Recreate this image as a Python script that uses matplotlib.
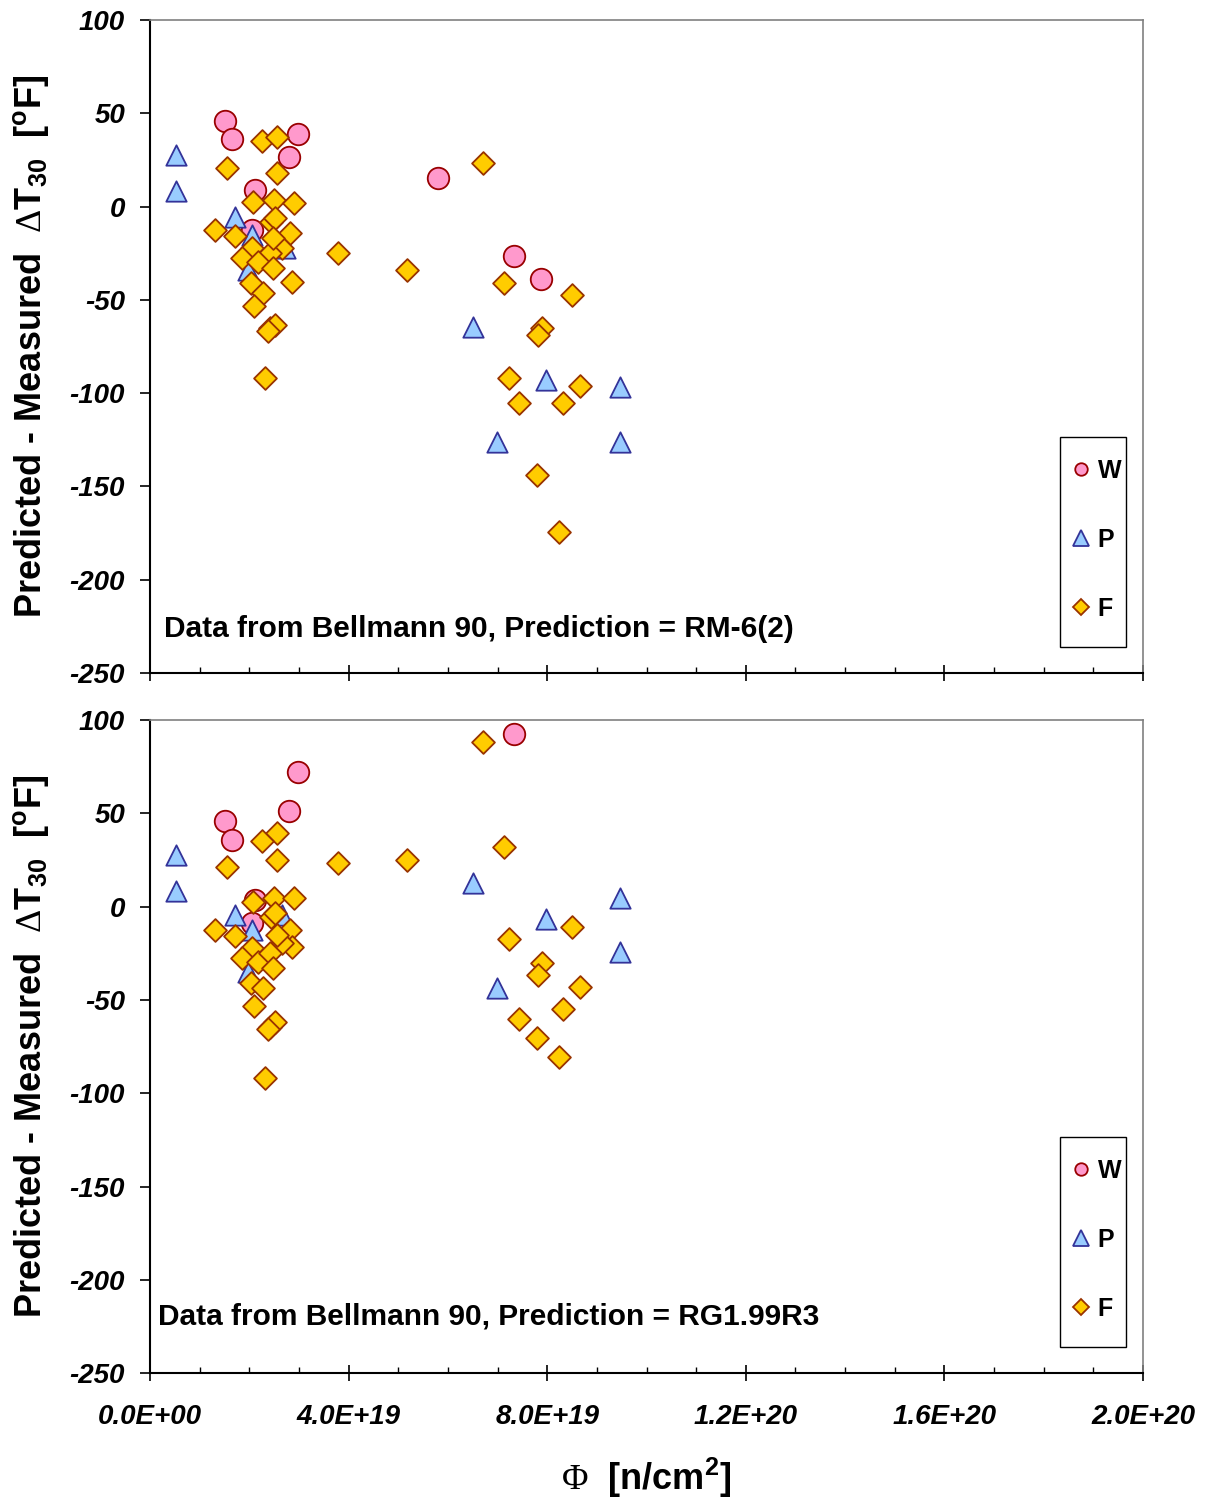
import matplotlib
matplotlib.use("Agg")
import matplotlib.pyplot as plt
from matplotlib.lines import Line2D
from matplotlib.patches import Rectangle
from matplotlib.ticker import FixedLocator, MultipleLocator

matplotlib.rcParams['font.family'] = ['Liberation Sans', 'DejaVu Sans']
matplotlib.rcParams['mathtext.fontset'] = 'custom'
matplotlib.rcParams['mathtext.rm'] = 'Liberation Sans:bold'
matplotlib.rcParams['mathtext.bf'] = 'Liberation Sans:bold'
matplotlib.rcParams['mathtext.sf'] = 'Liberation Serif'

# fluence in units of 1E19 n/cm2, difference in degF
# top panel: Prediction = RM-6(2)
top_w_x = [1.51, 1.65, 2.98, 2.80, 2.11, 5.80, 2.05, 7.33, 7.88]
top_w_y = [45.9, 36.2, 38.9, 26.6, 8.9, 15.3, -12.6, -26.5, -38.9]
top_p_x = [0.52, 0.52, 1.71, 2.05, 1.97, 2.72, 6.51, 6.99, 7.98, 9.47, 9.47]
top_p_y = [27.7, 8.4, -5.4, -15.2, -34.0, -22.0, -64.6, -126.0, -93.0, -96.6, -126.0]
top_f_x = [1.55, 2.26, 2.56, 2.56, 2.08, 2.50, 2.90, 2.44, 2.52, 1.31, 1.71, 2.82,
           2.66, 2.05, 2.42, 1.85, 2.17, 2.48, 2.86, 2.03, 2.28, 2.09, 2.42, 2.52,
           2.38, 2.32, 3.79, 2.48,
           6.71, 5.18, 7.13, 8.50, 7.90, 7.81, 7.23, 8.66, 7.43, 8.32, 7.79, 8.24]
top_f_y = [20.6, 35.1, 37.3, 18.0, 2.5, 3.5, 1.9, -8.3, -6.0, -12.5, -15.8, -14.3,
           -22.3, -22.3, -25.0, -27.7, -29.8, -32.9, -40.3, -41.1, -46.3, -53.3, -65.1, -63.5,
           -66.5, -92.0, -25.0, -17.0,
           23.3, -34.0, -41.0, -47.4, -65.0, -68.8, -91.8, -96.1, -105.3, -105.3, -143.9, -174.4]

# bottom panel: Prediction = RG1.99R3
bot_w_x = [1.51, 1.65, 2.98, 2.80, 2.11, 2.05, 7.33]
bot_w_y = [45.9, 35.7, 72.1, 51.2, 3.6, -8.8, 92.4]
bot_p_x = [0.52, 0.52, 1.71, 2.05, 1.97, 2.66, 6.51, 6.99, 7.98, 9.47, 9.47]
bot_p_y = [27.6, 8.4, -4.5, -12.6, -35.0, -4.5, 12.7, -43.5, -6.8, 4.6, -24.3]
bot_f_x = [2.56, 2.26, 1.55, 2.56, 3.79, 2.08, 2.50, 2.90, 2.44, 1.31, 1.71, 2.82,
           2.86, 2.66, 2.05, 1.85, 2.17, 2.42, 2.48, 2.03, 2.28, 2.09, 2.42, 2.52,
           2.38, 2.32, 2.52, 2.55,
           6.71, 7.13, 5.18, 8.50, 7.23, 7.90, 7.81, 8.66, 8.32, 7.43, 7.79, 8.24]
bot_f_y = [39.4, 35.2, 21.3, 25.0, 23.4, 2.5, 4.6, 4.6, -5.7, -12.6, -15.9, -12.6,
           -21.7, -19.6, -22.3, -27.6, -29.8, -25.0, -32.9, -41.1, -43.7, -53.3, -64.6, -61.9,
           -65.5, -91.9, -3.5, -15.0,
           88.3, 32.0, 25.0, -10.8, -17.4, -30.4, -36.9, -43.3, -54.6, -60.2, -70.4, -80.6]

x_ticks = [0, 4e19, 8e19, 1.2e20, 1.6e20, 2.0e20]
x_tick_labels = ["0.0E+00", "4.0E+19", "8.0E+19", "1.2E+20", "1.6E+20", "2.0E+20"]
y_ticks = [-250, -200, -150, -100, -50, 0, 50, 100]

W_STYLE = dict(marker='o', s=240, facecolor='#FF99CC', edgecolor='#990000')
P_STYLE = dict(marker='^', s=215, facecolor='#99CCFF', edgecolor='#333399')
F_STYLE = dict(marker='D', s=135, facecolor='#FFCC00', edgecolor='#993300')


def draw_panel(ax, wx, wy, px, py, fx, fy, note, note_xy, show_xlabels):
    ax.scatter([v * 1e19 for v in wx], wy, linewidths=1.3, zorder=3, **W_STYLE)
    ax.scatter([v * 1e19 for v in px], py, linewidths=1.3, zorder=4, **P_STYLE)
    ax.scatter([v * 1e19 for v in fx], fy, linewidths=1.3, zorder=5, **F_STYLE)

    ax.set_xlim(0, 2.0e20)
    ax.set_ylim(-250, 100)
    ax.xaxis.set_major_locator(FixedLocator(x_ticks))
    ax.xaxis.set_minor_locator(MultipleLocator(1e19))
    ax.yaxis.set_major_locator(FixedLocator(y_ticks))
    if show_xlabels:
        ax.set_xticklabels(x_tick_labels)
    else:
        ax.set_xticklabels([])
    ax.set_yticklabels([str(v) for v in y_ticks])
    for lab in ax.get_xticklabels() + ax.get_yticklabels():
        lab.set_fontsize(20)
        lab.set_fontweight('bold')
        lab.set_fontstyle('italic')
    ax.tick_params(axis='x', which='major', direction='inout', length=11, width=1.2, pad=17)
    ax.tick_params(axis='x', which='minor', direction='in', length=4.5, width=1.0)
    ax.tick_params(axis='y', which='major', direction='out', length=7, width=1.2, pad=11)

    for side in ['left', 'bottom']:
        ax.spines[side].set_color('black')
        ax.spines[side].set_linewidth(1.5)
    for side in ['top', 'right']:
        ax.spines[side].set_color('#808080')
        ax.spines[side].set_linewidth(1.2)

    ax.set_ylabel(r'Predicted - Measured  $\mathsf{\Delta}$T$_{\mathrm{30}}$  [$^{\mathrm{o}}$F]',
                  fontsize=26, fontweight='bold')
    ax.yaxis.set_label_coords(-0.100, 0.5)

    ax.text(note_xy[0], note_xy[1], note, transform=ax.transAxes, fontsize=21.5,
            fontweight='bold', ha='left', va='baseline')

    # legend box
    ax.add_patch(Rectangle((0.9164, 0.0398), 0.0665, 0.3216, transform=ax.transAxes,
                           facecolor='white', edgecolor='black', linewidth=1.0, zorder=6))
    handles = [
        Line2D([], [], linestyle='none', marker='o', markersize=9, markerfacecolor='#FF99CC',
               markeredgecolor='#990000', markeredgewidth=1.3),
        Line2D([], [], linestyle='none', marker='^', markersize=12, markerfacecolor='#99CCFF',
               markeredgecolor='#333399', markeredgewidth=1.3),
        Line2D([], [], linestyle='none', marker='D', markersize=8, markerfacecolor='#FFCC00',
               markeredgecolor='#993300', markeredgewidth=1.3),
    ]
    leg = ax.legend(handles, ['W', 'P', 'F'], loc='center left', bbox_to_anchor=(0.9265, 0.2037),
                    prop={'weight': 'bold', 'size': 18}, frameon=False,
                    labelspacing=1.8, handlelength=0.9, handletextpad=0.2,
                    borderpad=0.0, borderaxespad=0.0)
    leg.set_zorder(7)


def plt_bellmann():
    fig = plt.figure(figsize=(12.09, 14.98), dpi=100)
    ax_top = fig.add_axes([0.1241, 0.5507, 0.8213, 0.4359])
    ax_bot = fig.add_axes([0.1241, 0.0834, 0.8213, 0.4359])

    draw_panel(ax_top, top_w_x, top_w_y, top_p_x, top_p_y, top_f_x, top_f_y,
               "Data from Bellmann 90, Prediction = RM-6(2)", (0.0141, 0.0551), False)
    draw_panel(ax_bot, bot_w_x, bot_w_y, bot_p_x, bot_p_y, bot_f_x, bot_f_y,
               "Data from Bellmann 90, Prediction = RG1.99R3", (0.0081, 0.075), True)

    ax_bot.set_xlabel(r'$\mathsf{\Phi}$  [n/cm$^{\mathrm{2}}$]', fontsize=26, fontweight='bold',
                      labelpad=18)

    fig.savefig("out.png", dpi=100)


if __name__ == "__main__":
    plt_bellmann()
